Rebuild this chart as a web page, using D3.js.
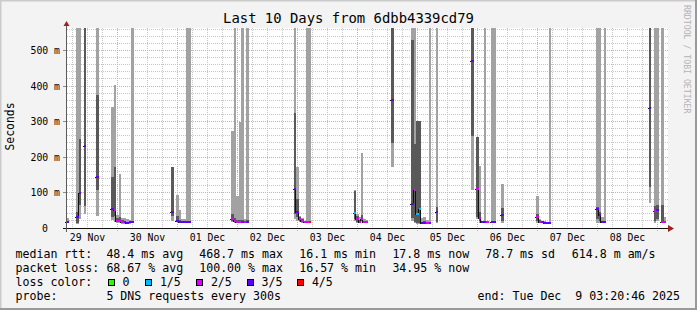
<!DOCTYPE html>
<html>
<head>
<meta charset="utf-8">
<script src="https://cdn.jsdelivr.net/npm/d3@7"></script>
<style>
	body { margin: 0; background: #f3f3f3; }
	svg { display: block; }
	text { font-family: 'DejaVu Sans Mono', monospace; white-space: pre; }
</style>
</head>
<body>
<div id="chart"></div>
<script>
/***********************************************************************/
//Data (ms, one slot = 1 hour, 600 = clipped above the top)
/***********************************************************************/
const slotBase = Date.UTC(2025, 10, 29, 3, 24)
const slotIndex   = [0, 4, 5, 7, 12, 18, 19, 20, 21, 22, 23, 24, 25, 26, 42, 44, 45, 46, 47, 48, 49, 66, 67, 68, 69, 70, 71, 72, 91, 92, 93, 94, 95, 96, 97, 115, 116, 117, 118, 119, 120, 130, 138, 139, 140, 141, 142, 143, 144, 145, 148, 162, 164, 165, 166, 167, 168, 170, 171, 174, 188, 189, 190, 191, 192, 193, 212, 213, 214, 215, 233, 235, 236, 238, 239]
const pingLow     = [13, 12, 25, 39, 35, 22, 18, 13, 13, 12, 12, 11, 11, 17, 20, 17, 14, 13, 13, 20, 20, 17, 15, 15, 15, 15, 15, 15, 25, 20, 17, 15, 13, 16, 16, 20, 15, 13, 17, 13, 13, 171, 20, 15, 12, 10, 12, 12, 12, 15, 15, 108, 25, 13, 13, 16, 13, 16, 16, 15, 15, 13, 13, 13, 13, 14, 15, 15, 14, 16, 70, 15, 20, 15, 15]
const pingLowMid  = [15, 15, 65, 63, 108, 30, 35, 16, 16, 14, 14, 13, 13, 17, 35, 18, 16, 15, 15, 20, 20, 20, 18, 17, 17, 17, 17, 17, 39, 30, 20, 17, 14, 16, 16, 25, 18, 16, 20, 15, 14, 239, 28, 18, 15, 15, 13, 13, 13, 15, 17, 260, 30, 20, 14, 16, 14, 16, 16, 20, 20, 15, 15, 14, 14, 14, 25, 20, 15, 16, 116, 20, 25, 17, 16]
const medianRtt   = [16, 31, 100, 231, 143, 53, 50, 20, 19, 18, 17, 15, 16, 17, 44, 20, 17, 16, 16, 16, 16, 25, 21, 18, 18, 18, 18, 18, 110, 45, 25, 20, 16, 16, 16, 43, 25, 18, 25, 17, 16, 360, 67, 107, 39, 53, 15, 15, 15, 15, 44, 470, 110, 29, 16, 16, 16, 16, 16, 37, 30, 18, 16, 15, 15, 14, 53, 36, 16, 16, 338, 48, 52, 18, 17]
const pingHighMid = [20, 45, 251, 600, 375, 143, 171, 28, 30, 22, 20, 18, 19, 17, 171, 35, 22, 20, 19, 20, 20, 39, 28, 22, 22, 22, 20, 22, 324, 82, 32, 25, 18, 16, 16, 103, 35, 22, 38, 20, 18, 600, 530, 237, 302, 302, 18, 20, 18, 15, 60, 600, 257, 44, 18, 16, 17, 16, 16, 56, 39, 22, 19, 17, 17, 14, 60, 45, 20, 16, 600, 63, 65, 65, 20]
const pingHigh    = [28, 600, 600, 600, 600, 340, 403, 38, 152, 27, 27, 24, 22, 600, 171, 93, 50, 25, 25, 600, 600, 274, 600, 91, 300, 600, 25, 600, 600, 171, 35, 28, 20, 600, 600, 106, 40, 30, 211, 25, 22, 600, 600, 600, 302, 302, 28, 32, 22, 600, 600, 600, 257, 175, 20, 600, 19, 600, 600, 124, 91, 25, 20, 19, 18, 600, 600, 600, 30, 600, 600, 600, 600, 600, 30]
const lossCount   = [3, 3, 3, 3, 3, 3, 2, 2, 2, 2, 3, 3, 3, 3, 3, 3, 3, 3, 3, 3, 3, 2, 2, 2, 2, 3, 2, 3, 3, 3, 2, 2, 2, 2, 4, 1, 2, 2, 2, 2, 2, 3, 3, 2, 1, 1, 3, 3, 2, 3, 3, 3, 2, 2, 3, 3, 2, 3, 3, 3, 2, 2, 3, 3, 3, 3, 3, 3, 3, 3, 3, 2, 3, 2, 2]

const lossLabels = ['0', '1/5', '2/5', '3/5', '4/5']
const lossColors = ['#26ff00', '#00b8ff', '#dd00ff', '#5e00ff', '#ff0000']
const yTickValues = [0, 100, 200, 300, 400, 500]
const dayLabels = ['29 Nov', '30 Nov', '01 Dec', '02 Dec', '03 Dec', '04 Dec', '05 Dec', '06 Dec', '07 Dec', '08 Dec']
const rttStats = ['48.4 ms avg', '468.7 ms max', '16.1 ms min', '17.8 ms now', '78.7 ms sd', '614.8 m am/s']
const lossStats = ['68.67 % avg', '100.00 % max', '16.57 % min', '34.95 % now']
const chartTitle = 'Last 10 Days from 6dbb4339cd79'
const probeText = '5 DNS requests every 300s'
const endText = 'end: Tue Dec  9 03:20:46 2025'

/***********************************************************************/
//Plot Area
/***********************************************************************/
const width = 697
const height = 310
const hour = 3600 * 1000

const svg = d3.select('#chart')
	.append('svg')
	.attr('width', width)
	.attr('height', height)

svg.append('rect')
	.attr('width', width)
	.attr('height', height)
	.attr('fill', '#f3f3f3')

// frame shading
svg.append('path').attr('d', `M0,${height}V0H${width}`)
	.attr('fill', 'none').attr('stroke', '#cbcbcb').attr('stroke-width', 3)
svg.append('path').attr('d', `M${width},0V${height}H0`)
	.attr('fill', 'none').attr('stroke', '#999999').attr('stroke-width', 4)

const xScale = d3.scaleUtc()
	.domain([new Date(Date.UTC(2025, 10, 29, 3, 48)), new Date(Date.UTC(2025, 11, 9, 3, 48))])
	.range([67, 667])

const yScale = d3.scaleLinear()
	.domain([0, 563.4])
	.range([228, 28])
	.clamp(true)

const [x0, x1] = xScale.range()
const [yBottom, yTop] = yScale.range()

svg.append('rect')
	.attr('x', x0 - 1)
	.attr('y', yTop)
	.attr('width', x1 - x0 + 2)
	.attr('height', yBottom - yTop)
	.attr('fill', '#ffffff')

/***********************************************************************/
//Grid
/***********************************************************************/
const gGrid = svg.append('g').attr('shape-rendering', 'crispEdges')
const [tStart, tEnd] = xScale.domain()

const minorY = d3.range(20, 563, 20).filter(v => v % 100 !== 0)
const majorY = yTickValues.filter(v => v > 0)

gGrid.selectAll('.minor-y').data(minorY).join('line')
	.attr('x1', x0).attr('x2', x1 + 1)
	.attr('y1', d => Math.floor(yScale(d)) + 0.5)
	.attr('y2', d => Math.floor(yScale(d)) + 0.5)
	.attr('stroke', '#c6c6c6')
	.attr('stroke-dasharray', '1,1')

const minorX = d3.utcHour.every(6).range(tStart, tEnd).filter(d => d.getUTCHours() !== 0)
const majorX = d3.utcDay.range(tStart, tEnd)

gGrid.selectAll('.minor-x').data(minorX).join('line')
	.attr('x1', d => Math.floor(xScale(d)) + 0.5)
	.attr('x2', d => Math.floor(xScale(d)) + 0.5)
	.attr('y1', yTop).attr('y2', yBottom)
	.attr('stroke', '#c6c6c6')
	.attr('stroke-dasharray', '1,1')

gGrid.selectAll('.major-y').data(majorY).join('line')
	.attr('x1', x0).attr('x2', x1 + 1)
	.attr('y1', d => Math.floor(yScale(d)) + 0.5)
	.attr('y2', d => Math.floor(yScale(d)) + 0.5)
	.attr('stroke', '#e6a4a4')
	.attr('stroke-dasharray', '1,1')

gGrid.selectAll('.tick-y').data(majorY).join('line')
	.attr('x1', x0 - 4).attr('x2', x0)
	.attr('y1', d => Math.floor(yScale(d)) + 0.5)
	.attr('y2', d => Math.floor(yScale(d)) + 0.5)
	.attr('stroke', '#8c8c8c')

gGrid.selectAll('.major-x').data(majorX).join('line')
	.attr('x1', d => Math.floor(xScale(d)) + 0.5)
	.attr('x2', d => Math.floor(xScale(d)) + 0.5)
	.attr('y1', yTop).attr('y2', yBottom + 3)
	.attr('stroke', '#e6a4a4')
	.attr('stroke-dasharray', '1,1')

/***********************************************************************/
//Smoke
/***********************************************************************/
const slots = slotIndex.map((k, i) => {
	const t = new Date(slotBase + k * hour)
	return {
		k,
		xa: Math.round(xScale(t)),
		xb: Math.round(xScale(new Date(+t + hour))),
		p1: pingLow[i], p2: pingLowMid[i], med: medianRtt[i], p4: pingHighMid[i], p5: pingHigh[i],
		loss: lossCount[i]
	}
})

const gSmoke = svg.append('g').attr('shape-rendering', 'crispEdges')

gSmoke.selectAll('.smoke-outer').data(slots).join('rect')
	.attr('x', d => d.xa)
	.attr('width', d => d.xb - d.xa)
	.attr('y', d => Math.round(yScale(d.p5)))
	.attr('height', d => Math.max(1, Math.round(yScale(d.p1)) - Math.round(yScale(d.p5))))
	.attr('fill', '#a2a2a2')

gSmoke.selectAll('.smoke-inner').data(slots.filter(d => d.p4 > d.p2)).join('rect')
	.attr('x', d => d.xa)
	.attr('width', d => d.xb - d.xa)
	.attr('y', d => Math.round(yScale(d.p4)))
	.attr('height', d => Math.max(1, Math.round(yScale(d.p2)) - Math.round(yScale(d.p4))))
	.attr('fill', '#595959')

// median line, one path per run of consecutive slots
const runs = []
slots.forEach((s, i) => {
	if (i > 0 && s.k === slots[i - 1].k + 1) runs[runs.length - 1].push(s)
	else runs.push([s])
})

const medLine = d3.line().curve(d3.curveStepAfter)

gSmoke.selectAll('.median-line').data(runs).join('path')
	.attr('d', run => {
		const pts = run.map(s => [s.xa - 1, Math.round(yScale(s.med)) + 0.5])
		const last = run[run.length - 1]
		pts.push([last.xb - 1, Math.round(yScale(last.med)) + 0.5])
		return medLine(pts)
	})
	.attr('fill', 'none')
	.attr('stroke', '#111')
	.attr('stroke-width', 1)

gSmoke.selectAll('.median').data(slots).join('rect')
	.attr('x', d => d.xa)
	.attr('width', d => d.xb - d.xa)
	.attr('y', d => Math.round(yScale(d.med)) - 1)
	.attr('height', 2)
	.attr('fill', d => lossColors[d.loss])

/***********************************************************************/
//Axes
/***********************************************************************/
const gAxis = svg.append('g')

gAxis.append('line')
	.attr('x1', x0 - 4).attr('x2', x1 + 2)
	.attr('y1', yBottom + 0.5).attr('y2', yBottom + 0.5)
	.attr('stroke', '#111')
	.attr('shape-rendering', 'crispEdges')

gAxis.append('line')
	.attr('x1', x0 - 0.5).attr('x2', x0 - 0.5)
	.attr('y1', yBottom + 4).attr('y2', yTop - 3)
	.attr('stroke', '#5a5a5a')
	.attr('shape-rendering', 'crispEdges')

gAxis.append('path')
	.attr('d', `M${x1 + 1},${yBottom - 3}L${x1 + 7},${yBottom + 0.5}L${x1 + 1},${yBottom + 4}Z`)
	.attr('fill', '#a3201f')

gAxis.append('path')
	.attr('d', `M${x0 - 3.5},${yTop - 2}L${x0 - 0.5},${yTop - 7}L${x0 + 2.5},${yTop - 2}Z`)
	.attr('fill', '#a3201f')

gAxis.selectAll('.y-label').data(yTickValues).join('text')
	.attr('x', d => d === 0 ? 48 : 60)
	.attr('y', d => yScale(d) + 3.6)
	.attr('text-anchor', 'end')
	.attr('font-size', '9.8px')
	.attr('fill', '#000')
	.text(d => d === 0 ? '0' : d + ' m')

gAxis.selectAll('.x-label').data(dayLabels).join('text')
	.attr('x', (d, i) => xScale(new Date(Date.UTC(2025, 10, 29 + i, 12))))
	.attr('y', 241.3)
	.attr('text-anchor', 'middle')
	.attr('font-size', '9.8px')
	.attr('fill', '#000')
	.text(d => d)

svg.append('text')
	.attr('transform', 'translate(14.3,126.5) rotate(-90)')
	.attr('text-anchor', 'middle')
	.attr('font-size', '11.4px')
	.text('Seconds')

svg.append('text')
	.attr('x', 348.5)
	.attr('y', 23.3)
	.attr('text-anchor', 'middle')
	.attr('font-size', '13.9px')
	.text(chartTitle)

svg.append('text')
	.attr('transform', 'translate(683.6,5) rotate(90)')
	.attr('font-size', '8.2px')
	.attr('fill', '#b4b4b4')
	.text('RRDTOOL / TOBI OETIKER')

/***********************************************************************/
//Legend
/***********************************************************************/
const gLegend = svg.append('g').attr('font-size', '11.6px').attr('fill', '#000')
const colX = [106.4, 199.2, 299.2, 392.4, 485.2, 571.8]
const rowY = [257.5, 271.5, 285.5, 299.5]

gLegend.append('text').attr('x', 15.5).attr('y', rowY[0]).text('median rtt:')
gLegend.append('text').attr('x', 15.5).attr('y', rowY[1]).text('packet loss:')
gLegend.append('text').attr('x', 15.5).attr('y', rowY[2]).text('loss color:')
gLegend.append('text').attr('x', 15.5).attr('y', rowY[3]).text('probe:')

gLegend.selectAll('.rtt').data(rttStats).join('text')
	.attr('x', (d, i) => colX[i]).attr('y', rowY[0]).text(d => d)

gLegend.selectAll('.loss').data(lossStats).join('text')
	.attr('x', (d, i) => colX[i]).attr('y', rowY[1]).text(d => d)

const boxX = [108.5, 145.9, 196.9, 247.5, 297.9]

gLegend.selectAll('.loss-box').data(lossColors).join('rect')
	.attr('x', (d, i) => boxX[i])
	.attr('y', 279.5)
	.attr('width', 6)
	.attr('height', 6)
	.attr('fill', d => d)
	.attr('stroke', '#000')
	.attr('shape-rendering', 'crispEdges')

gLegend.selectAll('.loss-label').data(lossLabels).join('text')
	.attr('x', (d, i) => boxX[i] + 14)
	.attr('y', rowY[2])
	.text(d => d)

gLegend.append('text').attr('x', colX[0]).attr('y', rowY[3]).text(probeText)
gLegend.append('text').attr('x', 680).attr('y', rowY[3]).attr('text-anchor', 'end').text(endText)
</script>
</body>
</html>
